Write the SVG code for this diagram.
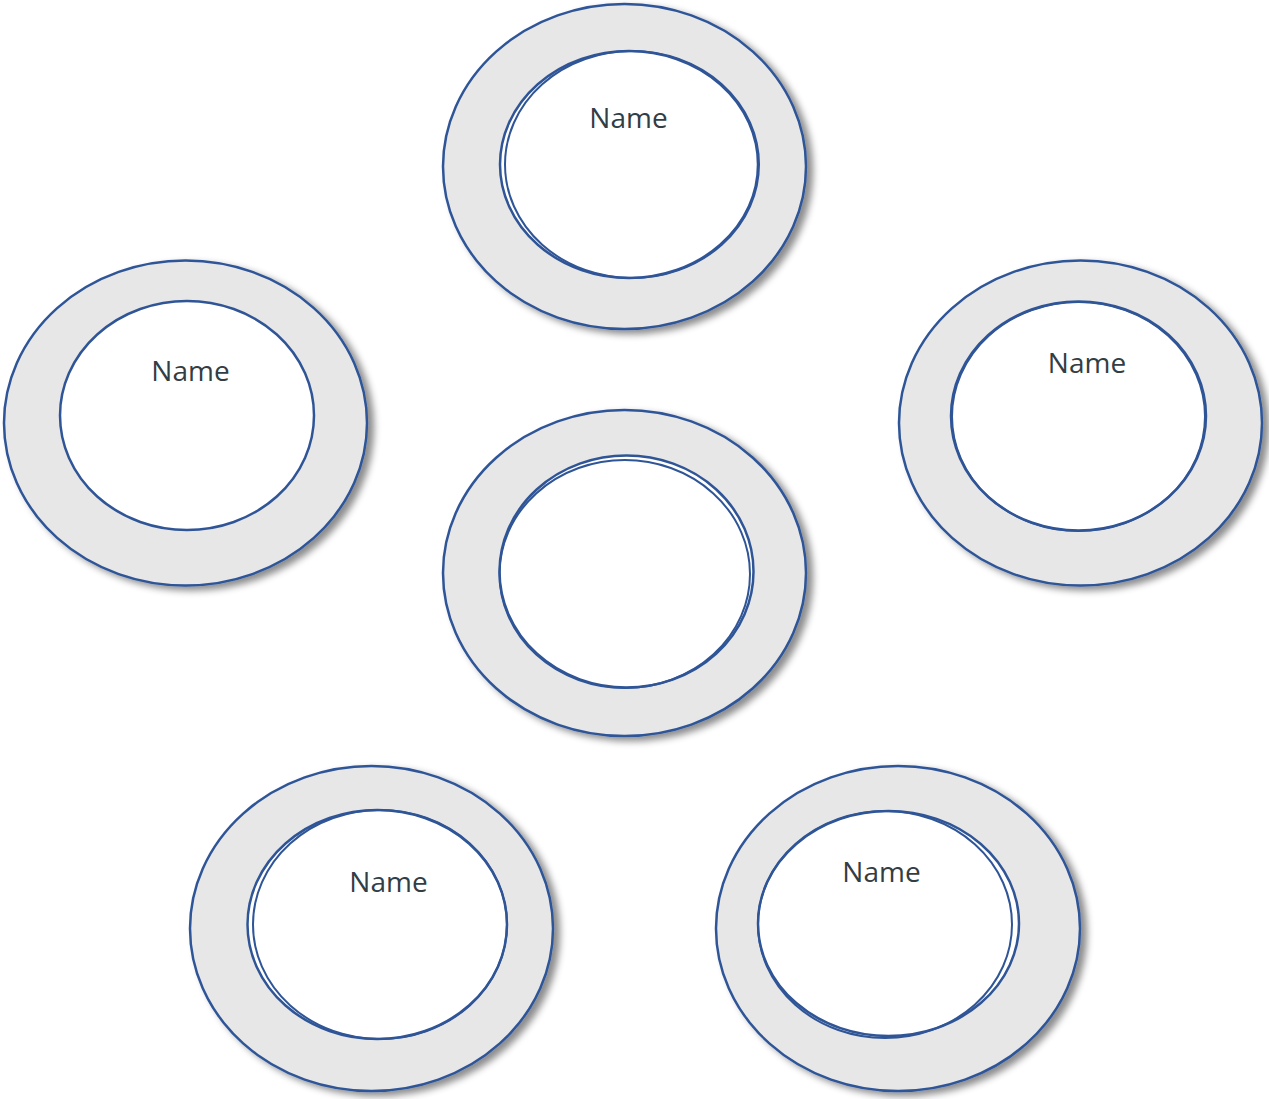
<svg xmlns="http://www.w3.org/2000/svg" width="1269" height="1099" viewBox="0 0 1269 1099">
<defs>
<filter id="sh" x="-10%" y="-10%" width="125%" height="125%">
<feDropShadow dx="6" dy="4" stdDeviation="3.5" flood-color="#000" flood-opacity="0.45"/>
</filter>
</defs>
<style>
.outer{fill:#e7e7e7;stroke:#2f5597;stroke-width:2.5;filter:url(#sh)}
.inner{fill:#fff;stroke:#2f5597;stroke-width:2.5}
.line{fill:none;stroke:#2f5597;stroke-width:2}
.lbl{font-family:"Open Sans","Noto Sans",sans-serif;font-size:28px;fill:#333d44;text-anchor:middle}
</style>
<rect width="1269" height="1099" fill="#fff"/>
<g id="node-top">
<ellipse class="outer" cx="624.5" cy="166.5" rx="181.5" ry="162.5"/>
<ellipse class="inner" cx="629" cy="164.5" rx="129" ry="113.5"/>
<ellipse class="line" cx="632" cy="164.5" rx="127" ry="113.5"/>
<text class="lbl" x="628.5" y="128">Name</text>
</g>
<g id="node-left">
<ellipse class="outer" cx="185.5" cy="423" rx="181.5" ry="162.5"/>
<ellipse class="inner" cx="187" cy="415.5" rx="127" ry="114.5"/>
<text class="lbl" x="190.5" y="381">Name</text>
</g>
<g id="node-right">
<ellipse class="outer" cx="1080.5" cy="423" rx="181.5" ry="162.5"/>
<ellipse class="inner" cx="1078.5" cy="416" rx="127.5" ry="114.5"/>
<ellipse class="line" cx="1078.5" cy="416.5" rx="126.5" ry="114.5"/>
<text class="lbl" x="1087" y="373">Name</text>
</g>
<g id="node-center">
<ellipse class="outer" cx="624.5" cy="573" rx="181.5" ry="163"/>
<ellipse class="inner" cx="626.5" cy="571.5" rx="127" ry="116"/>
<ellipse class="line" cx="624.75" cy="574" rx="125.25" ry="114"/>
</g>
<g id="node-bottom-left">
<ellipse class="outer" cx="371.5" cy="928.5" rx="181.5" ry="162.5"/>
<ellipse class="inner" cx="377.25" cy="924.5" rx="129.75" ry="114.5"/>
<ellipse class="line" cx="380" cy="924.5" rx="127" ry="114.5"/>
<text class="lbl" x="388.5" y="892">Name</text>
</g>
<g id="node-bottom-right">
<ellipse class="outer" cx="898" cy="928.5" rx="182" ry="162.5"/>
<ellipse class="inner" cx="888.5" cy="923.5" rx="130.5" ry="112.5"/>
<ellipse class="line" cx="885" cy="924.5" rx="127" ry="113.5"/>
<text class="lbl" x="881.5" y="882">Name</text>
</g>
<g id="connectors"></g>
</svg>
